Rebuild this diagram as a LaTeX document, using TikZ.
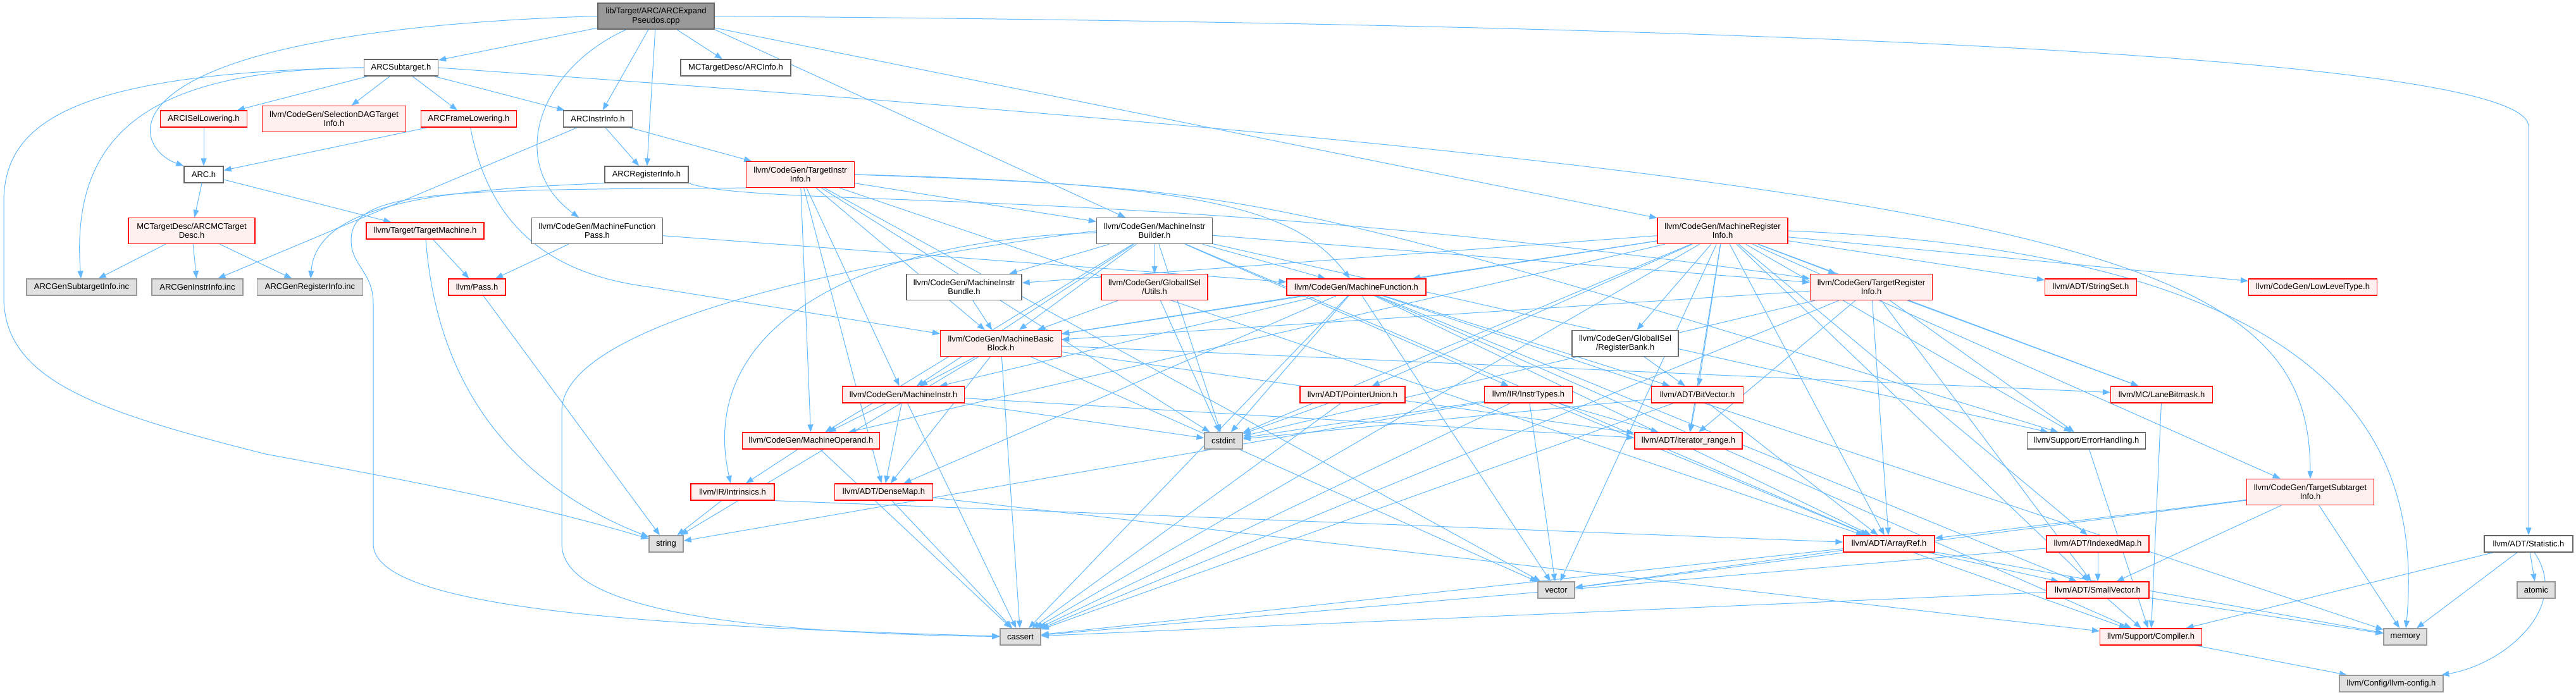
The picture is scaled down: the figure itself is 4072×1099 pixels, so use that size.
\documentclass[tikz,border=0pt]{standalone}
\usepackage{fontspec}
\setmainfont{Liberation Sans}
\usetikzlibrary{arrows.meta, backgrounds}

\definecolor{edgeblue}{HTML}{63B8FF}
\definecolor{truncred}{HTML}{FF0000}
\definecolor{truncfill}{HTML}{FFF0F0}
\definecolor{boxgray}{HTML}{666666}
\definecolor{rootfill}{HTML}{999999}
\definecolor{sysfill}{HTML}{E0E0E0}
\definecolor{sysdraw}{HTML}{999999}

\begin{document}
\begin{tikzpicture}[
  x=1pt, y=-1pt,
  font=\fontsize{13}{14.5}\selectfont,
  filebox/.style={
    line width=1.3pt, inner sep=2pt, align=center,
    minimum height=26pt
  },
  tall/.style={minimum height=41pt},
  srcfile/.style={filebox, fill=rootfill, draw=boxgray},
  hdrfile/.style={filebox, fill=white, draw=boxgray},
  cutfile/.style={filebox, fill=truncfill, draw=truncred},
  sysfile/.style={filebox, fill=sysfill, draw=sysdraw},
  inc/.style={draw=edgeblue, line width=1pt,
    -{Triangle[length=12pt, width=9pt]}}
]
\useasboundingbox (0,0) rectangle (4072,1099);

% the source file
\node[srcfile, tall, minimum width=184pt] (root) at (1037,25.5) {lib/Target/ARC/ARCExpand\\Pseudos.cpp};

% ARC target headers
\node[hdrfile, minimum width=117pt] (sub) at (634,107) {ARCSubtarget.h};
\node[hdrfile, minimum width=174pt] (info) at (1163,107) {MCTargetDesc/ARCInfo.h};
\node[cutfile, minimum width=137pt] (isel) at (322,188) {ARCISelLowering.h};
\node[cutfile, tall, minimum width=227pt] (seldag) at (528,188) {llvm/CodeGen/SelectionDAGTarget\\Info.h};
\node[cutfile, minimum width=151pt] (frame) at (741,188) {ARCFrameLowering.h};
\node[hdrfile, minimum width=109pt] (instrinfo) at (945,188) {ARCInstrInfo.h};
\node[hdrfile, minimum width=62pt] (arc) at (322,276) {ARC.h};
\node[hdrfile, minimum width=132pt] (reginfo) at (1022,276) {ARCRegisterInfo.h};
\node[cutfile, tall, minimum width=171pt] (tii) at (1265,276) {llvm/CodeGen/TargetInstr\\Info.h};
\node[cutfile, tall, minimum width=200pt] (mcdesc) at (303,365) {MCTargetDesc/ARCMCTarget\\Desc.h};
\node[cutfile, minimum width=186pt] (tm) at (672,365) {llvm/Target/TargetMachine.h};
\node[hdrfile, tall, minimum width=207pt] (mfp) at (944,365) {llvm/CodeGen/MachineFunction\\Pass.h};
\node[hdrfile, tall, minimum width=183pt] (mib) at (1825,365) {llvm/CodeGen/MachineInstr\\Builder.h};
\node[cutfile, tall, minimum width=206pt] (mri) at (2723,365) {llvm/CodeGen/MachineRegister\\Info.h};

% generated tables
\node[sysfile, minimum width=174pt] (gensub) at (129,454) {ARCGenSubtargetInfo.inc};
\node[sysfile, minimum width=144pt] (geninstr) at (312,454) {ARCGenInstrInfo.inc};
\node[sysfile, minimum width=167pt] (genreg) at (490,454) {ARCGenRegisterInfo.inc};

% llvm headers
\node[cutfile, minimum width=90pt] (pass) at (754,454) {llvm/Pass.h};
\node[hdrfile, tall, minimum width=182pt] (bundle) at (1524,454) {llvm/CodeGen/MachineInstr\\Bundle.h};
\node[cutfile, tall, minimum width=168pt] (gisutils) at (1825,454) {llvm/CodeGen/GlobalISel\\/Utils.h};
\node[cutfile, minimum width=220pt] (mf) at (2144,454) {llvm/CodeGen/MachineFunction.h};
\node[cutfile, tall, minimum width=193pt] (tri) at (2958,454) {llvm/CodeGen/TargetRegister\\Info.h};
\node[cutfile, minimum width=145pt] (strset) at (3305,454) {llvm/ADT/StringSet.h};
\node[cutfile, minimum width=203pt] (llt) at (3656,454) {llvm/CodeGen/LowLevelType.h};
\node[cutfile, tall, minimum width=191pt] (mbb) at (1582,543) {llvm/CodeGen/MachineBasic\\Block.h};
\node[hdrfile, tall, minimum width=168pt] (regbank) at (2569,543) {llvm/CodeGen/GlobalISel\\/RegisterBank.h};
\node[cutfile, minimum width=193pt] (mi) at (1428,624) {llvm/CodeGen/MachineInstr.h};
\node[cutfile, minimum width=166pt] (ptrunion) at (2138,624) {llvm/ADT/PointerUnion.h};
\node[cutfile, minimum width=139pt] (instrtypes) at (2416,624) {llvm/IR/InstrTypes.h};
\node[cutfile, minimum width=145pt] (bitvec) at (2683,624) {llvm/ADT/BitVector.h};
\node[cutfile, minimum width=161pt] (lanemask) at (3417,624) {llvm/MC/LaneBitmask.h};
\node[cutfile, minimum width=217pt] (mo) at (1282,697) {llvm/CodeGen/MachineOperand.h};
\node[sysfile, minimum width=60pt] (cstdint) at (1934,697) {cstdint};
\node[cutfile, minimum width=170pt] (itrange) at (2669,697) {llvm/ADT/iterator\_range.h};
\node[hdrfile, minimum width=187pt] (errh) at (3298,697) {llvm/Support/ErrorHandling.h};
\node[cutfile, minimum width=132pt] (intrin) at (1158,778) {llvm/IR/Intrinsics.h};
\node[cutfile, minimum width=155pt] (densemap) at (1397,778) {llvm/ADT/DenseMap.h};
\node[cutfile, tall, minimum width=201pt] (tsi) at (3652,778) {llvm/CodeGen/TargetSubtarget\\Info.h};
\node[sysfile, minimum width=54pt] (string) at (1053,860) {string};
\node[cutfile, minimum width=144pt] (arrayref) at (2986,860) {llvm/ADT/ArrayRef.h};
\node[cutfile, minimum width=162pt] (idxmap) at (3316,860) {llvm/ADT/IndexedMap.h};
\node[hdrfile, minimum width=140pt] (stat) at (3997,860) {llvm/ADT/Statistic.h};
\node[sysfile, minimum width=58pt] (vector) at (2460,933) {vector};
\node[cutfile, minimum width=162pt] (smallvec) at (3316,933) {llvm/ADT/SmallVector.h};
\node[sysfile, minimum width=60pt] (atomic) at (4009,933) {atomic};
\node[sysfile, minimum width=64pt] (cassert) at (1613,1007) {cassert};
\node[cutfile, minimum width=161pt] (compiler) at (3400,1007) {llvm/Support/Compiler.h};
\node[sysfile, minimum width=68pt] (memory) at (3802,1007) {memory};
\node[sysfile, minimum width=164pt] (llvmcfg) at (3780,1081) {llvm/Config/llvm-config.h};

% bends of the long edges
\coordinate (statturn) at (3997,200);
\coordinate (leftA) at (6,320);
\coordinate (leftB) at (6,470);
\coordinate (leftC) at (420,718);
\coordinate (mbbturn) at (1021,453);
\coordinate (runA) at (555,380);
\coordinate (runB) at (590,480);
\coordinate (runC) at (590,860);
\coordinate (runD) at (888,650);
\coordinate (runE) at (888,860);

\begin{scope}[on background layer]
% source file includes
\draw[inc] (root.west) .. controls (150,50) and (200,230) .. (arc.north west);
\draw[inc] (root) .. controls (850,110) and (800,260) .. (mfp);
\draw[inc] (root.south east) -- (mib);
\draw[inc] (root.east) .. controls (3000,40) and (3997,100) .. (statturn) -- (stat);
\foreach \dst in {sub, info, instrinfo, reginfo, mri}
  \draw[inc] (root) -- (\dst);

% ARC target headers
\draw[inc] (sub.west) .. controls (250,110) and (110,200) .. (gensub);
\draw[inc] (sub.west) .. controls (100,115) and (6,200) .. (leftA) -- (leftB)
  .. controls (6,600) and (150,650) .. (leftC)
  .. controls (700,770) and (850,800) .. (string);
\draw[inc] (sub.east) .. controls (3300,290) and (3651,400) .. (tsi);
\foreach \dst in {isel, seldag, frame, instrinfo}
  \draw[inc] (sub) -- (\dst);
\draw[inc] (isel) -- (arc);
\draw[inc] (frame) -- (arc);
\draw[inc] (frame) .. controls (770,340) and (850,430) .. (mbbturn) -- (mbb);
\foreach \dst in {reginfo, tii, geninstr}
  \draw[inc] (instrinfo) -- (\dst);
\draw[inc] (arc) -- (mcdesc);
\draw[inc] (arc) -- (tm);
\foreach \dst in {gensub, geninstr, genreg}
  \draw[inc] (mcdesc) -- (\dst);
\draw[inc] (reginfo.south west) .. controls (700,300) and (500,320) .. (genreg);
\draw[inc] (reginfo.south east) .. controls (1200,330) and (1800,290) .. (tri);
\draw[inc] (tm) -- (pass);
\draw[inc] (tm) .. controls (690,600) and (800,760) .. (string);
\draw[inc] (pass) -- (string);
\draw[inc] (mfp) -- (pass);
\draw[inc] (mfp) -- (mf);

% CodeGen headers
\foreach \dst in {arrayref, mbb, mi, mib, mo, densemap, cstdint, vector}
  \draw[inc] (tii) -- (\dst);
\draw[inc] (tii.south west) .. controls (700,300) and (555,300) .. (runA)
  .. controls (555,420) and (590,430) .. (runB) -- (runC)
  .. controls (590,960) and (1000,990) .. (cassert);
\draw[inc] (tii.east) .. controls (1900,290) and (2050,330) .. (mf);
\draw[inc] (tii.east) .. controls (2000,300) .. (errh);
\draw[inc] (mib) .. controls (1350,380) and (1100,520) .. (intrin);
\draw[inc] (mib.west) .. controls (1300,420) and (888,520) .. (runD) -- (runE)
  .. controls (888,950) and (1100,1000) .. (cassert);
\foreach \dst in {bundle, gisutils, mbb, mf, mi, mo, tri, instrtypes,
                  arrayref, errh, cstdint}
  \draw[inc] (mib) -- (\dst);
\foreach \dst in {bundle, mbb, mf, mo, tri, tsi, strset, llt, lanemask,
                  regbank, bitvec, itrange, ptrunion, idxmap, smallvec,
                  arrayref, errh, cassert, cstdint, vector}
  \draw[inc] (mri) -- (\dst);
\draw[inc] (mri.east) .. controls (3700,400) and (3830,700) .. (memory);
\draw[inc] (bundle) -- (mbb);
\draw[inc] (gisutils) -- (mbb);
\draw[inc] (gisutils) -- (cstdint);
\foreach \dst in {arrayref, bitvec, densemap, smallvec, mbb, mi,
                  compiler, cassert, cstdint, memory, vector}
  \draw[inc] (mf) -- (\dst);
\foreach \dst in {arrayref, smallvec, itrange, mbb, lanemask, errh,
                  cassert, cstdint}
  \draw[inc] (tri) -- (\dst);
\draw[inc] (regbank) -- (bitvec);
\foreach \dst in {itrange, mi, lanemask, densemap, cassert, string, vector}
  \draw[inc] (mbb) -- (\dst);
\foreach \dst in {mo, itrange, densemap, cassert, cstdint}
  \draw[inc] (mi) -- (\dst);
\draw[inc] (mo) -- (intrin);
\draw[inc] (mo) -- (cassert);

% ADT and support headers
\draw[inc] (ptrunion) -- (cassert);
\draw[inc] (ptrunion) -- (cstdint);
\foreach \dst in {arrayref, itrange, cassert, cstdint, string, vector}
  \draw[inc] (instrtypes) -- (\dst);
\foreach \dst in {arrayref, itrange, cassert, cstdint}
  \draw[inc] (bitvec) -- (\dst);
\draw[inc] (lanemask) -- (compiler);
\draw[inc] (errh) -- (compiler);
\draw[inc] (intrin) -- (string);
\draw[inc] (intrin.south east) -- (arrayref);
\draw[inc] (densemap) -- (cassert);
\draw[inc] (densemap) -- (compiler);
\foreach \dst in {arrayref, smallvec, memory, vector}
  \draw[inc] (tsi) -- (\dst);
\foreach \dst in {smallvec, compiler, cassert, memory, vector}
  \draw[inc] (arrayref) -- (\dst);
\draw[inc] (idxmap) -- (smallvec);
\draw[inc] (idxmap) -- (cassert);
\foreach \dst in {compiler, cassert, memory}
  \draw[inc] (smallvec) -- (\dst);
\foreach \dst in {compiler, atomic, memory}
  \draw[inc] (stat) -- (\dst);
\draw[inc] (stat) .. controls (4065,960) and (3960,1050) .. (llvmcfg);
\draw[inc] (compiler) -- (llvmcfg);
\end{scope}

\end{tikzpicture}
\end{document}
